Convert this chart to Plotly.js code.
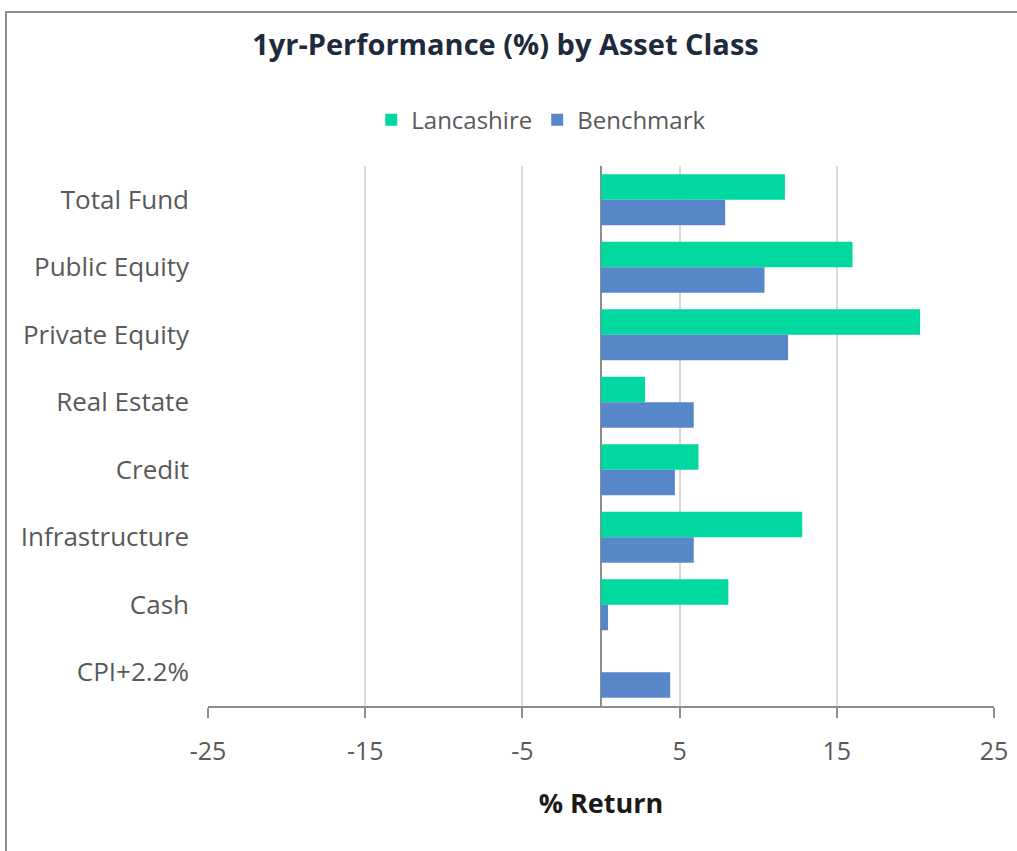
<!DOCTYPE html>
<html>
<head>
<meta charset="utf-8">
<script src="https://cdn.plot.ly/plotly-3.0.1.min.js"></script>
<style>
  html, body { margin: 0; padding: 0; background: #fff; }
  #chart { width: 1017px; height: 851px; }
</style>
</head>
<body>
<div id="chart"></div>
<script>
// asset classes, top to bottom
const categories = ["Total Fund", "Public Equity", "Private Equity", "Real Estate",
                    "Credit", "Infrastructure", "Cash", "CPI+2.2%"];
const lancashire = [11.7, 16.0, 20.3, 2.8, 6.2, 12.8, 8.1, 0];
const benchmark  = [7.9, 10.4, 11.9, 5.9, 4.7, 5.9, 0.45, 4.4];
const xTicks = [-25, -15, -5, 5, 15, 25];

const FONT = "Open Sans, Noto Sans, sans-serif";
const GREY_TXT = "#595959";

const traces = [
  {
    type: "bar", orientation: "h", name: "Lancashire",
    y: categories, x: lancashire,
    marker: { color: "#00d89f" },
    hovertemplate: "%{y}: %{x}%<extra>Lancashire</extra>"
  },
  {
    type: "bar", orientation: "h", name: "Benchmark",
    y: categories, x: benchmark,
    marker: { color: "#5787c8" },
    hovertemplate: "%{y}: %{x}%<extra>Benchmark</extra>"
  }
];

const layout = {
  width: 1017, height: 851,
  margin: { l: 208, r: 23, t: 166, b: 145, autoexpand: false },
  paper_bgcolor: "#fff", plot_bgcolor: "#fff",
  font: { family: FONT, color: GREY_TXT },
  barmode: "group",
  bargap: 0.245,
  bargroupgap: 0,
  title: {
    text: "<b>1yr-Performance (%) by Asset Class</b>",
    font: { family: FONT, size: 29, color: "#1f2a3c" },
    x: 0.497, xref: "container", xanchor: "center",
    y: 0.947, yref: "container", yanchor: "middle"
  },
  showlegend: true,
  legend: {
    orientation: "h",
    x: 0.424, xref: "paper", xanchor: "center",
    y: 1.085, yanchor: "middle",
    font: { family: FONT, size: 24, color: GREY_TXT },
    traceorder: "normal"
  },
  xaxis: {
    range: [-25, 25],
    tickvals: xTicks,
    ticktext: xTicks.map(String),
    showgrid: true, gridcolor: "#d9d9d9", gridwidth: 1.5,
    zeroline: true, zerolinecolor: "#8c8c8c", zerolinewidth: 2,
    showline: true, linecolor: "#8c8c8c", linewidth: 2,
    ticks: "outside", ticklen: 10, tickcolor: "#8c8c8c", tickwidth: 2,
    ticklabelstandoff: 12,
    tickfont: { family: FONT, size: 25, color: GREY_TXT },
    title: {
      text: "<b>% Return</b>",
      font: { family: FONT, size: 27, color: "#1a1a1a" },
      standoff: 28
    },
    fixedrange: true
  },
  yaxis: {
    autorange: "reversed",
    showgrid: false, zeroline: false, showline: false,
    ticks: "", ticklabelstandoff: 18,
    tickfont: { family: FONT, size: 26, color: GREY_TXT },
    fixedrange: true
  },
  shapes: [
    {
      type: "rect", xref: "paper", yref: "paper",
      x0: -0.257, x1: 1.5, y0: -0.6, y1: 1.285,
      line: { color: "#8c8c8c", width: 2 }, fillcolor: "rgba(0,0,0,0)",
      layer: "below"
    }
  ]
};

Plotly.newPlot("chart", traces, layout, { displayModeBar: false, responsive: false });
</script>
</body>
</html>
